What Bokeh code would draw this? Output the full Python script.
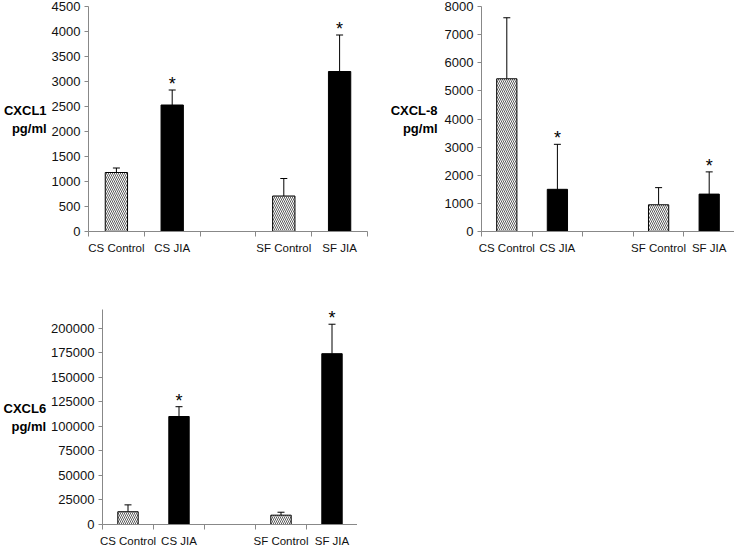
from bokeh.plotting import figure
from bokeh.models import FixedTicker, NumeralTickFormatter, Whisker, TeeHead, ColumnDataSource
from bokeh.layouts import column, row
from bokeh.embed import file_html
from bokeh.resources import INLINE
from bokeh.core.properties import value

categories = ["CS Control", "CS JIA", "SF Control", "SF JIA"]
cat_pos = [0.5, 1.5, 3.5, 4.5]
hatched = [True, False, True, False]

cxcl1_mean = [1180, 2530, 710, 3200]
cxcl1_err = [1270, 2830, 1060, 3930]
cxcl1_sig = [False, True, False, True]

cxcl8_mean = [5430, 1500, 950, 1330]
cxcl8_err = [7600, 3100, 1560, 2120]
cxcl8_sig = [False, True, False, True]

cxcl6_mean = [13000, 110000, 9500, 174000]
cxcl6_err = [20000, 120000, 12500, 204000]
cxcl6_sig = [False, True, False, True]

FONT = "Liberation Sans"


def panel(ylabel, means, errs, sig, ymax, ystep, ytop, frame_w, frame_h,
          border_left, border_top, border_right, label_standoff):
    p = figure(output_backend="svg", toolbar_location=None,
               frame_width=frame_w, frame_height=frame_h,
               x_range=(0, 5), y_range=(0, ytop),
               min_border_left=border_left, min_border_top=border_top,
               min_border_right=border_right, min_border_bottom=0)
    p.outline_line_color = None
    p.grid.visible = False
    p.background_fill_color = "white"
    p.border_fill_color = "white"

    # x axis: labels at centres, ticks at slot boundaries
    p.xaxis.ticker = FixedTicker(ticks=cat_pos, minor_ticks=[0, 1, 2, 3, 4, 5])
    p.xaxis.major_label_overrides = {pos: c for pos, c in zip(cat_pos, categories)}
    p.xaxis.major_tick_out = 0
    p.xaxis.major_tick_in = 0
    p.xaxis.minor_tick_out = 5
    p.xaxis.minor_tick_in = 0
    p.xaxis.minor_tick_line_color = "#888888"
    p.xaxis.axis_line_color = "#888888"
    p.xaxis.major_label_standoff = 5
    p.xaxis.major_label_text_font = FONT
    p.xaxis.major_label_text_font_size = "11.5px"
    p.xaxis.major_label_text_color = "#111111"

    p.yaxis.ticker = FixedTicker(ticks=list(range(0, ymax + 1, ystep)), minor_ticks=[])
    p.yaxis.formatter = NumeralTickFormatter(format="0")
    p.yaxis.major_tick_out = 4
    p.yaxis.major_tick_in = 0
    p.yaxis.minor_tick_out = 0
    p.yaxis.minor_tick_in = 0
    p.yaxis.axis_line_color = "#888888"
    p.yaxis.major_tick_line_color = "#888888"
    p.yaxis.major_label_standoff = 4
    p.yaxis.major_label_text_font = FONT
    p.yaxis.major_label_text_font_size = "13px"
    p.yaxis.major_label_text_color = "#111111"

    p.yaxis.axis_label = ylabel
    p.yaxis.axis_label_orientation = "horizontal"
    p.yaxis.axis_label_standoff = label_standoff
    p.yaxis.axis_label_text_font = FONT
    p.yaxis.axis_label_text_font_size = "13px"
    p.yaxis.axis_label_text_font_style = "bold"
    p.yaxis.axis_label_text_color = "black"

    hx = [x for x, h in zip(cat_pos, hatched) if h]
    hm = [m for m, h in zip(means, hatched) if h]
    sx = [x for x, h in zip(cat_pos, hatched) if not h]
    sm = [m for m, h in zip(means, hatched) if not h]

    p.vbar(x=hx, top=hm, width=0.4, fill_color="white", line_color="black",
           line_width=1, hatch_pattern="\\", hatch_color="#333333",
           hatch_scale=4, hatch_weight=0.8)
    p.vbar(x=sx, top=sm, width=0.4, fill_color="black", line_color="black",
           line_width=1)

    src = ColumnDataSource(dict(x=cat_pos, lower=means, upper=errs))
    w = Whisker(base="x", lower="lower", upper="upper", source=src,
                dimension="height", line_color="black", line_width=1,
                lower_head=None, upper_head=TeeHead(size=7, line_color="black", line_width=1))
    p.add_layout(w)

    star_x = [x for x, s in zip(cat_pos, sig) if s]
    star_y = [e for e, s in zip(errs, sig) if s]
    p.text(x=star_x, y=star_y, text=["*"] * len(star_x), text_align="center",
           text_baseline="alphabetic", y_offset=-6, text_font=value(FONT),
           text_font_size="18px", text_color="black")
    return p


p1 = panel("CXCL1\npg/ml", cxcl1_mean, cxcl1_err, cxcl1_sig, 4500, 500, 4500,
           279, 225, 80, 6, 10, 2)
p2 = panel("CXCL-8\npg/ml", cxcl8_mean, cxcl8_err, cxcl8_sig, 8000, 1000, 8000,
           253, 225, 104, 6, 0, 4)
p3 = panel("CXCL6\npg/ml", cxcl6_mean, cxcl6_err, cxcl6_sig, 200000, 25000, 219000,
           255, 215, 93, 53, 0, 2)

layout = column(row(p1, p2), p3)
open("out.html", "w").write(file_html(layout, INLINE))
